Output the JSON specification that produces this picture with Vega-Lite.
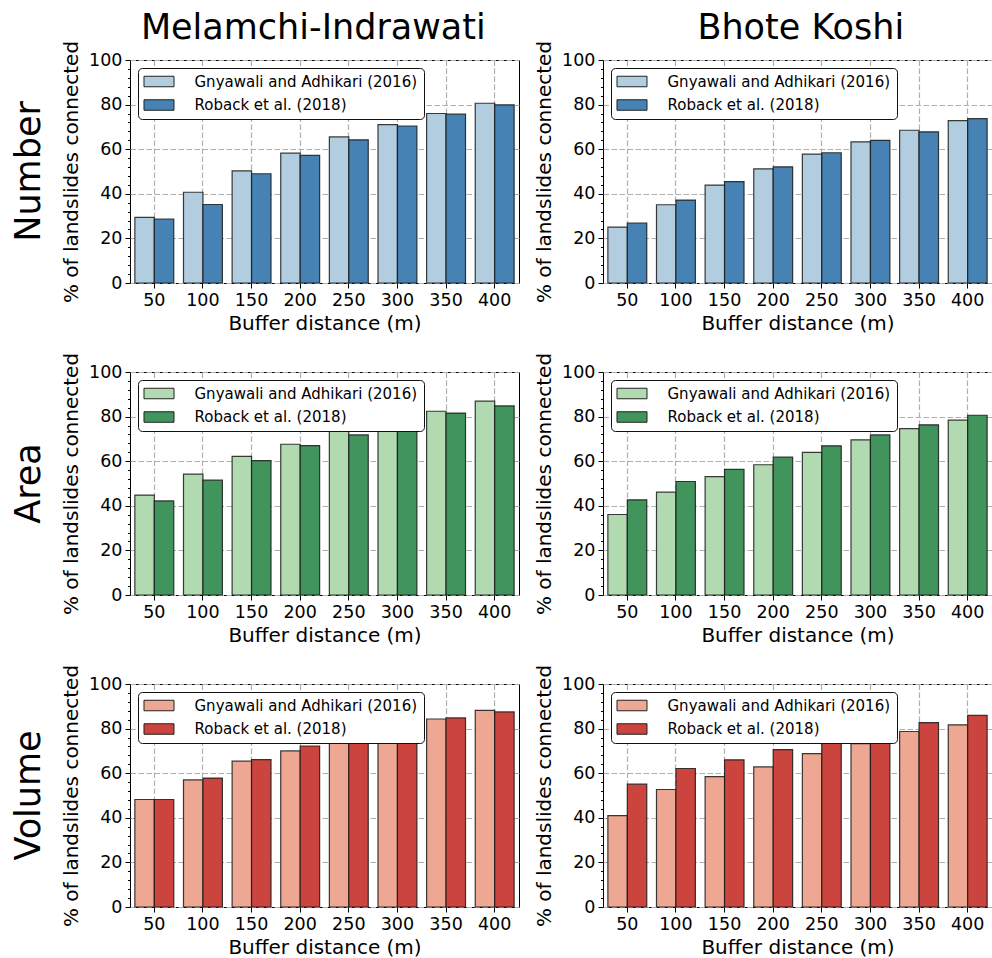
{
  "$schema": "https://vega.github.io/schema/vega-lite/v6.json",
  "background": "white",
  "padding": {"left": 11, "top": 10, "right": 5, "bottom": 5},
  "datasets": {"d": [
    {"region":"Melamchi-Indrawati","measure":"Number","buffer":50,"source":"Gnyawali and Adhikari (2016)","value":29.4},
    {"region":"Melamchi-Indrawati","measure":"Number","buffer":50,"source":"Roback et al. (2018)","value":28.7},
    {"region":"Melamchi-Indrawati","measure":"Number","buffer":100,"source":"Gnyawali and Adhikari (2016)","value":40.7},
    {"region":"Melamchi-Indrawati","measure":"Number","buffer":100,"source":"Roback et al. (2018)","value":35.2},
    {"region":"Melamchi-Indrawati","measure":"Number","buffer":150,"source":"Gnyawali and Adhikari (2016)","value":50.3},
    {"region":"Melamchi-Indrawati","measure":"Number","buffer":150,"source":"Roback et al. (2018)","value":49.0},
    {"region":"Melamchi-Indrawati","measure":"Number","buffer":200,"source":"Gnyawali and Adhikari (2016)","value":58.2},
    {"region":"Melamchi-Indrawati","measure":"Number","buffer":200,"source":"Roback et al. (2018)","value":57.2},
    {"region":"Melamchi-Indrawati","measure":"Number","buffer":250,"source":"Gnyawali and Adhikari (2016)","value":65.5},
    {"region":"Melamchi-Indrawati","measure":"Number","buffer":250,"source":"Roback et al. (2018)","value":64.2},
    {"region":"Melamchi-Indrawati","measure":"Number","buffer":300,"source":"Gnyawali and Adhikari (2016)","value":71.0},
    {"region":"Melamchi-Indrawati","measure":"Number","buffer":300,"source":"Roback et al. (2018)","value":70.4},
    {"region":"Melamchi-Indrawati","measure":"Number","buffer":350,"source":"Gnyawali and Adhikari (2016)","value":76.0},
    {"region":"Melamchi-Indrawati","measure":"Number","buffer":350,"source":"Roback et al. (2018)","value":75.7},
    {"region":"Melamchi-Indrawati","measure":"Number","buffer":400,"source":"Gnyawali and Adhikari (2016)","value":80.6},
    {"region":"Melamchi-Indrawati","measure":"Number","buffer":400,"source":"Roback et al. (2018)","value":79.9},
    {"region":"Bhote Koshi","measure":"Number","buffer":50,"source":"Gnyawali and Adhikari (2016)","value":25.1},
    {"region":"Bhote Koshi","measure":"Number","buffer":50,"source":"Roback et al. (2018)","value":26.9},
    {"region":"Bhote Koshi","measure":"Number","buffer":100,"source":"Gnyawali and Adhikari (2016)","value":35.1},
    {"region":"Bhote Koshi","measure":"Number","buffer":100,"source":"Roback et al. (2018)","value":37.2},
    {"region":"Bhote Koshi","measure":"Number","buffer":150,"source":"Gnyawali and Adhikari (2016)","value":43.9},
    {"region":"Bhote Koshi","measure":"Number","buffer":150,"source":"Roback et al. (2018)","value":45.5},
    {"region":"Bhote Koshi","measure":"Number","buffer":200,"source":"Gnyawali and Adhikari (2016)","value":51.2},
    {"region":"Bhote Koshi","measure":"Number","buffer":200,"source":"Roback et al. (2018)","value":52.1},
    {"region":"Bhote Koshi","measure":"Number","buffer":250,"source":"Gnyawali and Adhikari (2016)","value":57.8},
    {"region":"Bhote Koshi","measure":"Number","buffer":250,"source":"Roback et al. (2018)","value":58.4},
    {"region":"Bhote Koshi","measure":"Number","buffer":300,"source":"Gnyawali and Adhikari (2016)","value":63.3},
    {"region":"Bhote Koshi","measure":"Number","buffer":300,"source":"Roback et al. (2018)","value":64.0},
    {"region":"Bhote Koshi","measure":"Number","buffer":350,"source":"Gnyawali and Adhikari (2016)","value":68.5},
    {"region":"Bhote Koshi","measure":"Number","buffer":350,"source":"Roback et al. (2018)","value":67.8},
    {"region":"Bhote Koshi","measure":"Number","buffer":400,"source":"Gnyawali and Adhikari (2016)","value":72.8},
    {"region":"Bhote Koshi","measure":"Number","buffer":400,"source":"Roback et al. (2018)","value":73.7},
    {"region":"Melamchi-Indrawati","measure":"Area","buffer":50,"source":"Gnyawali and Adhikari (2016)","value":44.8},
    {"region":"Melamchi-Indrawati","measure":"Area","buffer":50,"source":"Roback et al. (2018)","value":42.2},
    {"region":"Melamchi-Indrawati","measure":"Area","buffer":100,"source":"Gnyawali and Adhikari (2016)","value":54.2},
    {"region":"Melamchi-Indrawati","measure":"Area","buffer":100,"source":"Roback et al. (2018)","value":51.5},
    {"region":"Melamchi-Indrawati","measure":"Area","buffer":150,"source":"Gnyawali and Adhikari (2016)","value":62.2},
    {"region":"Melamchi-Indrawati","measure":"Area","buffer":150,"source":"Roback et al. (2018)","value":60.3},
    {"region":"Melamchi-Indrawati","measure":"Area","buffer":200,"source":"Gnyawali and Adhikari (2016)","value":67.6},
    {"region":"Melamchi-Indrawati","measure":"Area","buffer":200,"source":"Roback et al. (2018)","value":67.0},
    {"region":"Melamchi-Indrawati","measure":"Area","buffer":250,"source":"Gnyawali and Adhikari (2016)","value":76.5},
    {"region":"Melamchi-Indrawati","measure":"Area","buffer":250,"source":"Roback et al. (2018)","value":71.8},
    {"region":"Melamchi-Indrawati","measure":"Area","buffer":300,"source":"Gnyawali and Adhikari (2016)","value":78.0},
    {"region":"Melamchi-Indrawati","measure":"Area","buffer":300,"source":"Roback et al. (2018)","value":77.0},
    {"region":"Melamchi-Indrawati","measure":"Area","buffer":350,"source":"Gnyawali and Adhikari (2016)","value":82.4},
    {"region":"Melamchi-Indrawati","measure":"Area","buffer":350,"source":"Roback et al. (2018)","value":81.6},
    {"region":"Melamchi-Indrawati","measure":"Area","buffer":400,"source":"Gnyawali and Adhikari (2016)","value":86.9},
    {"region":"Melamchi-Indrawati","measure":"Area","buffer":400,"source":"Roback et al. (2018)","value":84.8},
    {"region":"Bhote Koshi","measure":"Area","buffer":50,"source":"Gnyawali and Adhikari (2016)","value":36.1},
    {"region":"Bhote Koshi","measure":"Area","buffer":50,"source":"Roback et al. (2018)","value":42.7},
    {"region":"Bhote Koshi","measure":"Area","buffer":100,"source":"Gnyawali and Adhikari (2016)","value":46.1},
    {"region":"Bhote Koshi","measure":"Area","buffer":100,"source":"Roback et al. (2018)","value":50.9},
    {"region":"Bhote Koshi","measure":"Area","buffer":150,"source":"Gnyawali and Adhikari (2016)","value":53.1},
    {"region":"Bhote Koshi","measure":"Area","buffer":150,"source":"Roback et al. (2018)","value":56.3},
    {"region":"Bhote Koshi","measure":"Area","buffer":200,"source":"Gnyawali and Adhikari (2016)","value":58.4},
    {"region":"Bhote Koshi","measure":"Area","buffer":200,"source":"Roback et al. (2018)","value":61.8},
    {"region":"Bhote Koshi","measure":"Area","buffer":250,"source":"Gnyawali and Adhikari (2016)","value":64.0},
    {"region":"Bhote Koshi","measure":"Area","buffer":250,"source":"Roback et al. (2018)","value":66.9},
    {"region":"Bhote Koshi","measure":"Area","buffer":300,"source":"Gnyawali and Adhikari (2016)","value":69.6},
    {"region":"Bhote Koshi","measure":"Area","buffer":300,"source":"Roback et al. (2018)","value":71.8},
    {"region":"Bhote Koshi","measure":"Area","buffer":350,"source":"Gnyawali and Adhikari (2016)","value":74.6},
    {"region":"Bhote Koshi","measure":"Area","buffer":350,"source":"Roback et al. (2018)","value":76.3},
    {"region":"Bhote Koshi","measure":"Area","buffer":400,"source":"Gnyawali and Adhikari (2016)","value":78.4},
    {"region":"Bhote Koshi","measure":"Area","buffer":400,"source":"Roback et al. (2018)","value":80.6},
    {"region":"Melamchi-Indrawati","measure":"Volume","buffer":50,"source":"Gnyawali and Adhikari (2016)","value":48.2},
    {"region":"Melamchi-Indrawati","measure":"Volume","buffer":50,"source":"Roback et al. (2018)","value":48.2},
    {"region":"Melamchi-Indrawati","measure":"Volume","buffer":100,"source":"Gnyawali and Adhikari (2016)","value":57.0},
    {"region":"Melamchi-Indrawati","measure":"Volume","buffer":100,"source":"Roback et al. (2018)","value":57.8},
    {"region":"Melamchi-Indrawati","measure":"Volume","buffer":150,"source":"Gnyawali and Adhikari (2016)","value":65.4},
    {"region":"Melamchi-Indrawati","measure":"Volume","buffer":150,"source":"Roback et al. (2018)","value":66.1},
    {"region":"Melamchi-Indrawati","measure":"Volume","buffer":200,"source":"Gnyawali and Adhikari (2016)","value":70.0},
    {"region":"Melamchi-Indrawati","measure":"Volume","buffer":200,"source":"Roback et al. (2018)","value":72.2},
    {"region":"Melamchi-Indrawati","measure":"Volume","buffer":250,"source":"Gnyawali and Adhikari (2016)","value":77.0},
    {"region":"Melamchi-Indrawati","measure":"Volume","buffer":250,"source":"Roback et al. (2018)","value":77.5},
    {"region":"Melamchi-Indrawati","measure":"Volume","buffer":300,"source":"Gnyawali and Adhikari (2016)","value":80.0},
    {"region":"Melamchi-Indrawati","measure":"Volume","buffer":300,"source":"Roback et al. (2018)","value":80.5},
    {"region":"Melamchi-Indrawati","measure":"Volume","buffer":350,"source":"Gnyawali and Adhikari (2016)","value":84.3},
    {"region":"Melamchi-Indrawati","measure":"Volume","buffer":350,"source":"Roback et al. (2018)","value":84.8},
    {"region":"Melamchi-Indrawati","measure":"Volume","buffer":400,"source":"Gnyawali and Adhikari (2016)","value":88.2},
    {"region":"Melamchi-Indrawati","measure":"Volume","buffer":400,"source":"Roback et al. (2018)","value":87.5},
    {"region":"Bhote Koshi","measure":"Volume","buffer":50,"source":"Gnyawali and Adhikari (2016)","value":41.0},
    {"region":"Bhote Koshi","measure":"Volume","buffer":50,"source":"Roback et al. (2018)","value":55.1},
    {"region":"Bhote Koshi","measure":"Volume","buffer":100,"source":"Gnyawali and Adhikari (2016)","value":52.7},
    {"region":"Bhote Koshi","measure":"Volume","buffer":100,"source":"Roback et al. (2018)","value":62.1},
    {"region":"Bhote Koshi","measure":"Volume","buffer":150,"source":"Gnyawali and Adhikari (2016)","value":58.5},
    {"region":"Bhote Koshi","measure":"Volume","buffer":150,"source":"Roback et al. (2018)","value":66.0},
    {"region":"Bhote Koshi","measure":"Volume","buffer":200,"source":"Gnyawali and Adhikari (2016)","value":62.8},
    {"region":"Bhote Koshi","measure":"Volume","buffer":200,"source":"Roback et al. (2018)","value":70.6},
    {"region":"Bhote Koshi","measure":"Volume","buffer":250,"source":"Gnyawali and Adhikari (2016)","value":68.8},
    {"region":"Bhote Koshi","measure":"Volume","buffer":250,"source":"Roback et al. (2018)","value":76.5},
    {"region":"Bhote Koshi","measure":"Volume","buffer":300,"source":"Gnyawali and Adhikari (2016)","value":73.3},
    {"region":"Bhote Koshi","measure":"Volume","buffer":300,"source":"Roback et al. (2018)","value":79.0},
    {"region":"Bhote Koshi","measure":"Volume","buffer":350,"source":"Gnyawali and Adhikari (2016)","value":78.7},
    {"region":"Bhote Koshi","measure":"Volume","buffer":350,"source":"Roback et al. (2018)","value":82.7},
    {"region":"Bhote Koshi","measure":"Volume","buffer":400,"source":"Gnyawali and Adhikari (2016)","value":81.7},
    {"region":"Bhote Koshi","measure":"Volume","buffer":400,"source":"Roback et al. (2018)","value":85.9}
  ]},
  "data": {"name": "d"},
  "spacing": 14,
  "resolve": {"scale": {"color": "independent", "x": "independent", "y": "independent"}, "legend": {"color": "independent"}},
  "hconcat": [
    {
      "title": {"text": "Melamchi-Indrawati", "anchor": "middle", "frame": "bounds", "offset": -6, "dx": 48},
      "spacing": 17,
      "resolve": {"scale": {"color": "independent", "x": "independent", "y": "independent"}, "legend": {"color": "independent"}},
      "vconcat": [
        {
          "title": {"text": "Number", "orient": "left", "anchor": "middle", "frame": "group", "offset": 15},
          "width": 389, "height": 223,
          "transform": [{"filter": "datum.region === 'Melamchi-Indrawati' && datum.measure === 'Number'"}],
          "mark": {"type": "bar", "stroke": "#1a1a1a", "strokeWidth": 1.2, "strokeOpacity": 0.85},
          "encoding": {
            "x": {"field": "buffer", "type": "ordinal", "title": "Buffer distance (m)", "scale": {"paddingInner": 0.2, "paddingOuter": 0.1}},
            "xOffset": {"field": "source", "type": "nominal", "sort": ["Gnyawali and Adhikari (2016)", "Roback et al. (2018)"], "scale": {"paddingInner": 0, "paddingOuter": 0}},
            "y": {"field": "value", "type": "quantitative", "title": "% of landslides connected", "scale": {"domain": [0, 100], "nice": false},
              "axis": {"values": [0,4,8,12,16,20,24,28,32,36,40,44,48,52,56,60,64,68,72,76,80,84,88,92,96,100], "labelExpr": "datum.value % 20 === 0 ? datum.label : ''", "tickSize": {"condition": {"test": "datum.value % 20 === 0", "value": 5}, "value": 2.5}, "gridOpacity": {"condition": {"test": "datum.value % 20 === 0", "value": 1}, "value": 0}}},
            "color": {"field": "source", "type": "nominal", "scale": {"domain": ["Gnyawali and Adhikari (2016)", "Roback et al. (2018)"], "range": ["#b3cde0", "#4682b4"]}, "legend": {"title": null}}
          }
        },
        {
          "title": {"text": "Area", "orient": "left", "anchor": "middle", "frame": "group", "offset": 15},
          "width": 389, "height": 223,
          "transform": [{"filter": "datum.region === 'Melamchi-Indrawati' && datum.measure === 'Area'"}],
          "mark": {"type": "bar", "stroke": "#1a1a1a", "strokeWidth": 1.2, "strokeOpacity": 0.85},
          "encoding": {
            "x": {"field": "buffer", "type": "ordinal", "title": "Buffer distance (m)", "scale": {"paddingInner": 0.2, "paddingOuter": 0.1}},
            "xOffset": {"field": "source", "type": "nominal", "sort": ["Gnyawali and Adhikari (2016)", "Roback et al. (2018)"], "scale": {"paddingInner": 0, "paddingOuter": 0}},
            "y": {"field": "value", "type": "quantitative", "title": "% of landslides connected", "scale": {"domain": [0, 100], "nice": false},
              "axis": {"values": [0,4,8,12,16,20,24,28,32,36,40,44,48,52,56,60,64,68,72,76,80,84,88,92,96,100], "labelExpr": "datum.value % 20 === 0 ? datum.label : ''", "tickSize": {"condition": {"test": "datum.value % 20 === 0", "value": 5}, "value": 2.5}, "gridOpacity": {"condition": {"test": "datum.value % 20 === 0", "value": 1}, "value": 0}}},
            "color": {"field": "source", "type": "nominal", "scale": {"domain": ["Gnyawali and Adhikari (2016)", "Roback et al. (2018)"], "range": ["#b2dab0", "#41945c"]}, "legend": {"title": null}}
          }
        },
        {
          "title": {"text": "Volume", "orient": "left", "anchor": "middle", "frame": "group", "offset": 15},
          "width": 389, "height": 223,
          "transform": [{"filter": "datum.region === 'Melamchi-Indrawati' && datum.measure === 'Volume'"}],
          "mark": {"type": "bar", "stroke": "#1a1a1a", "strokeWidth": 1.2, "strokeOpacity": 0.85},
          "encoding": {
            "x": {"field": "buffer", "type": "ordinal", "title": "Buffer distance (m)", "scale": {"paddingInner": 0.2, "paddingOuter": 0.1}},
            "xOffset": {"field": "source", "type": "nominal", "sort": ["Gnyawali and Adhikari (2016)", "Roback et al. (2018)"], "scale": {"paddingInner": 0, "paddingOuter": 0}},
            "y": {"field": "value", "type": "quantitative", "title": "% of landslides connected", "scale": {"domain": [0, 100], "nice": false},
              "axis": {"values": [0,4,8,12,16,20,24,28,32,36,40,44,48,52,56,60,64,68,72,76,80,84,88,92,96,100], "labelExpr": "datum.value % 20 === 0 ? datum.label : ''", "tickSize": {"condition": {"test": "datum.value % 20 === 0", "value": 5}, "value": 2.5}, "gridOpacity": {"condition": {"test": "datum.value % 20 === 0", "value": 1}, "value": 0}}},
            "color": {"field": "source", "type": "nominal", "scale": {"domain": ["Gnyawali and Adhikari (2016)", "Roback et al. (2018)"], "range": ["#eda792", "#cc443e"]}, "legend": {"title": null}}
          }
        }
      ]
    },
    {
      "title": {"text": "Bhote Koshi", "anchor": "middle", "frame": "bounds", "offset": -6, "dx": 37.5},
      "spacing": 17,
      "resolve": {"scale": {"color": "independent", "x": "independent", "y": "independent"}, "legend": {"color": "independent"}},
      "vconcat": [
        {
          "width": 389, "height": 223,
          "transform": [{"filter": "datum.region === 'Bhote Koshi' && datum.measure === 'Number'"}],
          "mark": {"type": "bar", "stroke": "#1a1a1a", "strokeWidth": 1.2, "strokeOpacity": 0.85},
          "encoding": {
            "x": {"field": "buffer", "type": "ordinal", "title": "Buffer distance (m)", "scale": {"paddingInner": 0.2, "paddingOuter": 0.1}},
            "xOffset": {"field": "source", "type": "nominal", "sort": ["Gnyawali and Adhikari (2016)", "Roback et al. (2018)"], "scale": {"paddingInner": 0, "paddingOuter": 0}},
            "y": {"field": "value", "type": "quantitative", "title": "% of landslides connected", "scale": {"domain": [0, 100], "nice": false},
              "axis": {"values": [0,4,8,12,16,20,24,28,32,36,40,44,48,52,56,60,64,68,72,76,80,84,88,92,96,100], "labelExpr": "datum.value % 20 === 0 ? datum.label : ''", "tickSize": {"condition": {"test": "datum.value % 20 === 0", "value": 5}, "value": 2.5}, "gridOpacity": {"condition": {"test": "datum.value % 20 === 0", "value": 1}, "value": 0}}},
            "color": {"field": "source", "type": "nominal", "scale": {"domain": ["Gnyawali and Adhikari (2016)", "Roback et al. (2018)"], "range": ["#b3cde0", "#4682b4"]}, "legend": {"title": null}}
          }
        },
        {
          "width": 389, "height": 223,
          "transform": [{"filter": "datum.region === 'Bhote Koshi' && datum.measure === 'Area'"}],
          "mark": {"type": "bar", "stroke": "#1a1a1a", "strokeWidth": 1.2, "strokeOpacity": 0.85},
          "encoding": {
            "x": {"field": "buffer", "type": "ordinal", "title": "Buffer distance (m)", "scale": {"paddingInner": 0.2, "paddingOuter": 0.1}},
            "xOffset": {"field": "source", "type": "nominal", "sort": ["Gnyawali and Adhikari (2016)", "Roback et al. (2018)"], "scale": {"paddingInner": 0, "paddingOuter": 0}},
            "y": {"field": "value", "type": "quantitative", "title": "% of landslides connected", "scale": {"domain": [0, 100], "nice": false},
              "axis": {"values": [0,4,8,12,16,20,24,28,32,36,40,44,48,52,56,60,64,68,72,76,80,84,88,92,96,100], "labelExpr": "datum.value % 20 === 0 ? datum.label : ''", "tickSize": {"condition": {"test": "datum.value % 20 === 0", "value": 5}, "value": 2.5}, "gridOpacity": {"condition": {"test": "datum.value % 20 === 0", "value": 1}, "value": 0}}},
            "color": {"field": "source", "type": "nominal", "scale": {"domain": ["Gnyawali and Adhikari (2016)", "Roback et al. (2018)"], "range": ["#b2dab0", "#41945c"]}, "legend": {"title": null}}
          }
        },
        {
          "width": 389, "height": 223,
          "transform": [{"filter": "datum.region === 'Bhote Koshi' && datum.measure === 'Volume'"}],
          "mark": {"type": "bar", "stroke": "#1a1a1a", "strokeWidth": 1.2, "strokeOpacity": 0.85},
          "encoding": {
            "x": {"field": "buffer", "type": "ordinal", "title": "Buffer distance (m)", "scale": {"paddingInner": 0.2, "paddingOuter": 0.1}},
            "xOffset": {"field": "source", "type": "nominal", "sort": ["Gnyawali and Adhikari (2016)", "Roback et al. (2018)"], "scale": {"paddingInner": 0, "paddingOuter": 0}},
            "y": {"field": "value", "type": "quantitative", "title": "% of landslides connected", "scale": {"domain": [0, 100], "nice": false},
              "axis": {"values": [0,4,8,12,16,20,24,28,32,36,40,44,48,52,56,60,64,68,72,76,80,84,88,92,96,100], "labelExpr": "datum.value % 20 === 0 ? datum.label : ''", "tickSize": {"condition": {"test": "datum.value % 20 === 0", "value": 5}, "value": 2.5}, "gridOpacity": {"condition": {"test": "datum.value % 20 === 0", "value": 1}, "value": 0}}},
            "color": {"field": "source", "type": "nominal", "scale": {"domain": ["Gnyawali and Adhikari (2016)", "Roback et al. (2018)"], "range": ["#eda792", "#cc443e"]}, "legend": {"title": null}}
          }
        }
      ]
    }
  ],
  "config": {
    "font": "DejaVu Sans",
    "view": {"stroke": "black", "strokeWidth": 1},
    "axis": {"domain": false, "tickColor": "black", "labelColor": "black", "titleColor": "black", "labelFontSize": 17.5, "titleFontSize": 20, "titleFontWeight": "normal", "labelFont": "DejaVu Sans", "titleFont": "DejaVu Sans", "gridColor": "#b0b0b0", "gridDash": [5.5, 2.5], "gridWidth": 1.2, "tickSize": 5, "labelPadding": 3, "titlePadding": 7},
    "axisX": {"labelAngle": 0, "bandPosition": 0.5, "grid": true, "titlePadding": 5},
    "legend": {"orient": "top-left", "offset": 8, "fillColor": "white", "strokeColor": "#111111", "strokeWidth": 1, "cornerRadius": 4, "padding": 6, "labelFontSize": 15, "labelFont": "DejaVu Sans", "labelColor": "black", "symbolType": "M-2.143,-0.75H2.143V0.75H-2.143Z", "symbolSize": 196, "symbolStrokeColor": "#222222", "symbolStrokeWidth": 1, "symbolOpacity": 1, "symbolOffset": 7.5, "labelOffset": 28, "rowPadding": 7.5, "zindex": 1, "labelLimit": 400},
    "title": {"font": "DejaVu Sans", "fontSize": 35, "fontWeight": "normal", "color": "black"}
  }
}
